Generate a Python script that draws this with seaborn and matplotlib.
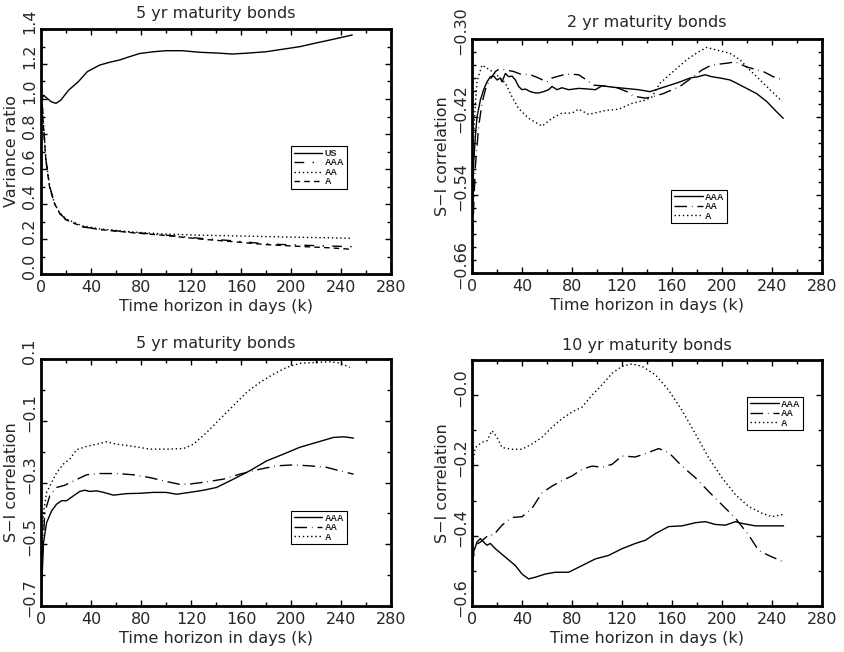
import numpy as np
import pandas as pd
import matplotlib
matplotlib.use("Agg")
import matplotlib.pyplot as plt
import matplotlib.transforms as mtrans
from matplotlib.ticker import MultipleLocator, FixedLocator, FixedFormatter
import seaborn as sns

# ---------------- data ----------------
# Panel 1: 5 yr maturity bonds, variance ratio
p1_us_k = [1, 2, 4, 8, 12, 16, 22, 30, 37, 47, 55, 63, 70, 79, 90, 100, 113, 127, 140, 153, 165, 180, 193, 207, 220, 233, 249]
p1_us_v = [1.00, 1.022, 1.010, 0.985, 0.975, 0.995, 1.05, 1.10, 1.156, 1.194, 1.21, 1.223, 1.24, 1.26, 1.27, 1.276, 1.276, 1.267, 1.263, 1.257, 1.262, 1.27, 1.284, 1.299, 1.32, 1.34, 1.366]
p1_aaa_k = [1, 2, 4, 7, 11, 15, 20, 33, 47, 73, 100, 127, 153, 180, 206, 230, 249]
p1_aaa_v = [0.97, 0.85, 0.65, 0.50, 0.40, 0.347, 0.31, 0.27, 0.255, 0.238, 0.222, 0.204, 0.19, 0.172, 0.165, 0.16, 0.156]
p1_aa_k = [1, 2, 4, 7, 11, 15, 20, 33, 47, 73, 100, 127, 153, 180, 206, 230, 249]
p1_aa_v = [0.97, 0.85, 0.65, 0.50, 0.40, 0.35, 0.315, 0.275, 0.258, 0.24, 0.228, 0.222, 0.218, 0.214, 0.21, 0.207, 0.204]
p1_a_k = [1, 2, 4, 7, 11, 15, 20, 33, 47, 73, 100, 127, 153, 180, 206, 230, 249]
p1_a_v = [0.96, 0.84, 0.64, 0.49, 0.40, 0.345, 0.31, 0.27, 0.254, 0.236, 0.22, 0.20, 0.185, 0.168, 0.158, 0.15, 0.141]

# Panel 2: 2 yr maturity bonds, S-I correlation
p2_aaa_k = [0, 0.7, 1.3, 2.7, 4, 6.7, 9.3, 12, 14.7, 17.3, 20, 22.7, 24, 26.7, 29.3, 32, 34.7, 37.3, 40, 42.7, 46.7, 50.7, 53.3, 57.3, 61.3, 64, 68, 72, 77.3, 85.3, 93.3, 98.7, 104, 112, 122.7, 133.3, 142.4, 150.4, 158.4, 166.4, 174.4, 181, 186.4, 191.7, 198.4, 206.4, 211.7, 219.7, 227.7, 235.7, 243.7, 249]
p2_aaa_v = [-0.624, -0.55, -0.491, -0.45, -0.42, -0.394, -0.378, -0.366, -0.358, -0.357, -0.363, -0.36, -0.366, -0.353, -0.358, -0.357, -0.363, -0.373, -0.378, -0.377, -0.381, -0.383, -0.383, -0.381, -0.378, -0.373, -0.378, -0.375, -0.378, -0.376, -0.377, -0.378, -0.372, -0.374, -0.376, -0.378, -0.381, -0.376, -0.371, -0.366, -0.36, -0.358, -0.355, -0.358, -0.36, -0.363, -0.368, -0.376, -0.384, -0.396, -0.412, -0.422]
p2_aa_k = [0, 1.3, 2.7, 5.3, 8, 10.7, 13.3, 18.7, 21.3, 25.3, 33.3, 38.7, 46.7, 52, 60, 64, 73.3, 78.7, 85.3, 89.3, 97.3, 104, 114.7, 124, 129.3, 138.7, 144, 153, 166.4, 177, 183.7, 191.7, 205, 210.4, 219.7, 233, 241, 249]
p2_aa_v = [-0.64, -0.56, -0.496, -0.435, -0.399, -0.378, -0.366, -0.35, -0.347, -0.347, -0.35, -0.354, -0.355, -0.359, -0.366, -0.36, -0.355, -0.354, -0.355, -0.36, -0.371, -0.372, -0.374, -0.381, -0.388, -0.391, -0.389, -0.384, -0.373, -0.358, -0.348, -0.34, -0.337, -0.335, -0.343, -0.35, -0.358, -0.363]
p2_a_k = [0, 1.3, 2.7, 4, 8, 12, 18.7, 26.7, 32, 37.3, 45.3, 56, 64, 72, 80, 85.3, 93.3, 106.7, 117.3, 128, 138.7, 144, 150.4, 161, 171.7, 181, 187.7, 195.7, 206.4, 214.4, 222.4, 230.4, 238.4, 248]
p2_a_v = [-0.573, -0.45, -0.40, -0.365, -0.34, -0.345, -0.353, -0.368, -0.389, -0.407, -0.422, -0.434, -0.422, -0.414, -0.414, -0.408, -0.416, -0.41, -0.408, -0.399, -0.394, -0.389, -0.368, -0.35, -0.332, -0.32, -0.313, -0.317, -0.322, -0.332, -0.348, -0.363, -0.378, -0.396]

# Panel 3: 5 yr maturity bonds, S-I correlation
p3_aaa_k = [0.5, 2, 4.5, 8.5, 12.5, 16.5, 20.5, 26, 31, 35, 39, 44.5, 50, 58, 68.5, 79, 90, 100, 108.5, 119, 130, 140.5, 154, 167, 180.5, 194, 207, 220.5, 234, 242, 250]
p3_aaa_v = [-0.646, -0.495, -0.43, -0.392, -0.37, -0.359, -0.359, -0.343, -0.329, -0.325, -0.329, -0.327, -0.332, -0.341, -0.336, -0.335, -0.332, -0.332, -0.338, -0.332, -0.325, -0.316, -0.289, -0.262, -0.23, -0.208, -0.186, -0.17, -0.154, -0.152, -0.156]
p3_aa_k = [0.5, 3, 7, 12.5, 19, 26, 36.5, 47, 60.5, 74, 87, 100.5, 111, 119, 132.5, 146, 159, 175, 188.5, 202, 215, 228.5, 239, 250]
p3_aa_v = [-0.603, -0.397, -0.343, -0.316, -0.309, -0.295, -0.275, -0.271, -0.271, -0.275, -0.284, -0.297, -0.306, -0.305, -0.298, -0.289, -0.273, -0.257, -0.246, -0.243, -0.246, -0.251, -0.262, -0.273]
p3_a_k = [0.5, 2, 4.5, 8.5, 12.5, 18, 23, 28.5, 36.5, 44.5, 52.5, 60.5, 74, 87, 100.5, 114, 122, 132.5, 143, 154, 164.5, 175, 186, 196.5, 207, 220.5, 231, 239, 247]
p3_a_v = [-0.549, -0.397, -0.332, -0.30, -0.268, -0.24, -0.224, -0.194, -0.183, -0.176, -0.168, -0.176, -0.183, -0.192, -0.192, -0.19, -0.176, -0.138, -0.095, -0.051, -0.008, 0.024, 0.051, 0.073, 0.086, 0.089, 0.091, 0.087, 0.073]

# Panel 4: 10 yr maturity bonds, S-I correlation
p4_aaa_k = [0, 1.3, 4, 6.7, 9.3, 12, 14.7, 18.7, 26.7, 34.7, 40, 45.3, 50.7, 58.7, 66.7, 77.3, 88, 98.7, 109.3, 120, 130.7, 138.7, 146.7, 157.3, 168, 178.7, 186.7, 194.7, 202.7, 210.7, 216, 226.7, 237.3, 249.3]
p4_aaa_v = [-0.533, -0.446, -0.418, -0.408, -0.418, -0.427, -0.422, -0.437, -0.461, -0.485, -0.509, -0.523, -0.518, -0.509, -0.504, -0.504, -0.485, -0.466, -0.456, -0.437, -0.422, -0.413, -0.394, -0.374, -0.372, -0.363, -0.36, -0.368, -0.37, -0.36, -0.365, -0.372, -0.372, -0.372]
p4_aa_k = [0, 2.7, 6.7, 13.3, 17.3, 24, 32, 40, 48, 56, 64, 72, 80, 88, 96, 104, 112, 120, 130.7, 141.3, 149.3, 157.3, 168, 178.7, 189.3, 200, 210.7, 221.3, 229.3, 237.3, 249.3]
p4_aa_v = [-0.485, -0.427, -0.418, -0.398, -0.398, -0.37, -0.348, -0.346, -0.322, -0.278, -0.259, -0.243, -0.23, -0.211, -0.202, -0.205, -0.197, -0.173, -0.176, -0.163, -0.152, -0.163, -0.202, -0.235, -0.274, -0.312, -0.35, -0.398, -0.442, -0.456, -0.475]
p4_a_k = [0, 2.7, 8, 12, 16, 20, 24, 32, 40, 48, 56, 64, 72, 80, 88, 96, 104, 112, 120, 128, 136, 146.7, 157.3, 168, 178.7, 189.3, 200, 210.7, 221.3, 232, 240, 249.3]
p4_a_v = [-0.206, -0.149, -0.134, -0.13, -0.101, -0.12, -0.149, -0.154, -0.154, -0.139, -0.12, -0.091, -0.067, -0.048, -0.034, 0.0, 0.029, 0.062, 0.082, 0.089, 0.082, 0.058, 0.014, -0.043, -0.11, -0.178, -0.235, -0.283, -0.317, -0.336, -0.346, -0.339]

titles = ["5 yr maturity bonds", "2 yr maturity bonds", "5 yr maturity bonds", "10 yr maturity bonds"]
ylabels = ["Variance ratio", "S\u2212I correlation", "S\u2212I correlation", "S\u2212I correlation"]
xticks = [0, 40, 80, 120, 160, 200, 240, 280]
xlabel = "Time horizon in days (k)"

p1_yticks = [0.0, 0.2, 0.4, 0.6, 0.8, 1.0, 1.2, 1.4]
p1_ylabels = ["0.0", "0.2", "0.4", "0.6", "0.8", "1.0", "1.2", "1.4"]
p2_yticks = [-0.66, -0.54, -0.42, -0.30]
p2_ylabels = ["\u22120.66", "\u22120.54", "\u22120.42", "\u22120.30"]
p3_yticks = [-0.7, -0.5, -0.3, -0.1, 0.1]
p3_ylabels = ["\u22120.7", "\u22120.5", "\u22120.3", "\u22120.1", "0.1"]
p4_yticks = [-0.6, -0.4, -0.2, 0.0]
p4_ylabels = ["\u22120.6", "\u22120.4", "\u22120.2", "\u22120.0"]

# ---------------- styling ----------------
sns.set_style("ticks")
plt.rcParams["font.family"] = ["DejaVu Sans"]

fig = plt.figure(figsize=(8.44, 6.52), dpi=100)
W, H = 844, 652

def add_ax(x0, y0, x1, y1):
    return fig.add_axes([x0 / W, 1 - y1 / H, (x1 - x0) / W, (y1 - y0) / H])

axes = [add_ax(41, 29, 391, 274), add_ax(472, 39, 822, 273),
        add_ax(41, 359, 391, 606), add_ax(472, 360, 822, 606)]

DOT = (0, (1, 2))
DASH = (0, (4, 3))
DASHDOT_WIDE = (0, (7, 6, 1, 6))
DASHDOT_LONG = (0, (9, 3.5, 0.5, 3.5))

panels = [
    [("US", p1_us_k, p1_us_v, "-"), ("AAA", p1_aaa_k, p1_aaa_v, DASHDOT_WIDE),
     ("AA", p1_aa_k, p1_aa_v, DOT), ("A", p1_a_k, p1_a_v, DASH)],
    [("AAA", p2_aaa_k, p2_aaa_v, "-"), ("AA", p2_aa_k, p2_aa_v, DASHDOT_LONG),
     ("A", p2_a_k, p2_a_v, DOT)],
    [("AAA", p3_aaa_k, p3_aaa_v, "-"), ("AA", p3_aa_k, p3_aa_v, DASHDOT_LONG),
     ("A", p3_a_k, p3_a_v, DOT)],
    [("AAA", p4_aaa_k, p4_aaa_v, "-"), ("AA", p4_aa_k, p4_aa_v, DASHDOT_LONG),
     ("A", p4_a_k, p4_a_v, DOT)],
]
ylims = [(0.0, 1.4), (-0.66, -0.30), (-0.7, 0.1), (-0.6, 0.1)]
yminor = [0.1, 0.02, 0.1, 0.1]
ytk = [(p1_yticks, p1_ylabels), (p2_yticks, p2_ylabels), (p3_yticks, p3_ylabels), (p4_yticks, p4_ylabels)]
leg_pos = [(0.714, 0.522), (0.569, 0.355), (0.714, 0.385), (0.786, 0.85)]
title_pads = [8, 9, 8, 7]

FS = 11.5
for i, ax in enumerate(axes):
    for name, k, v, ls in panels[i]:
        df = pd.DataFrame({"k": k, "v": v})
        sns.lineplot(data=df, x="k", y="v", ax=ax, color="black", lw=1.0,
                     linestyle=ls, label=name, estimator=None, sort=False)
    ax.set_xlim(0, 280)
    ax.set_ylim(*ylims[i])
    ax.set_xticks(xticks)
    ax.set_xticklabels([str(t) for t in xticks])
    ax.xaxis.set_minor_locator(MultipleLocator(20))
    ax.yaxis.set_major_locator(FixedLocator(ytk[i][0]))
    ax.yaxis.set_major_formatter(FixedFormatter(ytk[i][1]))
    ax.yaxis.set_minor_locator(MultipleLocator(yminor[i]))
    ax.tick_params(which="both", direction="in", top=True, right=True, color="black", width=1.0)
    ax.tick_params(which="major", length=4)
    ax.tick_params(which="minor", length=3)
    ax.tick_params(axis="x", labelsize=FS, pad=4)
    ax.tick_params(axis="y", labelsize=FS, pad=3)
    for lab in ax.get_yticklabels():
        lab.set_rotation(90)
        lab.set_va("center")
        lab.set_transform(lab.get_transform() + mtrans.ScaledTranslation(0, 0.08, fig.dpi_scale_trans))
    for sp in ax.spines.values():
        sp.set_visible(True)
        sp.set_linewidth(2.0)
        sp.set_color("black")
    ax.set_xlabel(xlabel, fontsize=FS, labelpad=3)
    ax.set_ylabel(ylabels[i], fontsize=FS, labelpad=2)
    ax.set_title(titles[i], fontsize=FS, pad=title_pads[i])
    ax.set_facecolor("white")
    leg = ax.legend(loc="upper left", bbox_to_anchor=leg_pos[i], frameon=True,
                    fancybox=False, shadow=False, edgecolor="black", framealpha=1,
                    prop={"family": "Liberation Sans", "weight": "bold", "size": 6.5},
                    handlelength=3.2, handletextpad=0.2, borderpad=0.3,
                    labelspacing=0.05, borderaxespad=0)
    leg.get_frame().set_linewidth(0.8)

fig.savefig("out.png", dpi=100, facecolor="white")
